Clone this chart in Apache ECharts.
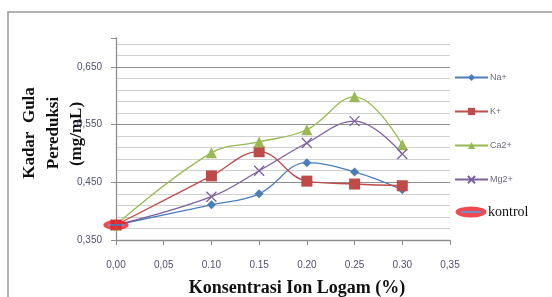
<!DOCTYPE html>
<html>
<head>
<meta charset="utf-8">
<script src="https://cdn.jsdelivr.net/npm/echarts@6/dist/echarts.min.js"></script>
<style>
  html, body { margin: 0; padding: 0; background: #fff; }
  #chart { width: 552px; height: 297px; }
</style>
</head>
<body>
<div id="chart"></div>
<script>
// concentrations (%)
const xValues = [0.00, 0.10, 0.15, 0.20, 0.25, 0.30];
const naValues = [0.376, 0.411, 0.430, 0.484, 0.468, 0.437];
const kValues = [0.376, 0.461, 0.503, 0.452, 0.447, 0.444];
const caValues = [0.376, 0.501, 0.520, 0.541, 0.598, 0.515];
const mgValues = [0.376, 0.425, 0.470, 0.518, 0.556, 0.499];
const kontrolValues = [[0.00, 0.376]];
const xTickLabels = { '0': '0,00', '0.05': '0,05', '0.1': '0.10', '0.15': '0.15', '0.2': '0.20', '0.25': '0.25', '0.3': '0.30', '0.35': '0,35' };
const yTickLabels = { '0.35': '0,350', '0.45': '0,450', '0.55': '0,550', '0.65': '0,650' };

const chart = echarts.init(document.getElementById('chart'));

const pairs = vals => vals.map((v, i) => [xValues[i], v]);

// red ellipse with blue line, used for kontrol marker + legend
const kontrolSvg = 'data:image/svg+xml;utf8,' + encodeURIComponent(
  '<svg xmlns="http://www.w3.org/2000/svg" width="32" height="12" viewBox="0 0 32 12">' +
  '<ellipse cx="16" cy="6" rx="15.5" ry="5.5" fill="#ee1c24"/>' +
  '<line x1="6" y1="6" x2="26" y2="6" stroke="#5b6fb2" stroke-width="2.2"/></svg>'
);

const minorColors = [];
for (let i = 0; i < 19; i++) minorColors.push(i % 5 === 0 ? '#8e8e8e' : '#cfcfcf');

const tickFont = { fontSize: 10, color: '#4f4f70', fontFamily: 'Liberation Sans' };

const lineSeries = (name, vals, color, symbol, size) => ({
  name: name,
  type: 'line',
  smooth: 0.4,
  data: pairs(vals),
  symbol: symbol,
  symbolSize: size,
  lineStyle: { color: color, width: 1.3 },
  itemStyle: { color: color, borderColor: color, borderWidth: symbol.startsWith('path') ? 1.3 : 0 },
  z: 3
});

const option = {
  animation: false,
  grid: { left: 116, top: 38, right: 102, bottom: 57 },
  xAxis: {
    type: 'value',
    min: 0,
    max: 0.35,
    interval: 0.05,
    axisLine: { lineStyle: { color: '#8e8e8e', width: 1.3 } },
    axisTick: { show: true, length: 5, lineStyle: { color: '#8e8e8e' } },
    axisLabel: Object.assign({ margin: 20, formatter: v => xTickLabels[String(+v.toFixed(2))] || '' }, tickFont),
    splitLine: { show: false }
  },
  yAxis: [
    {
      type: 'value',
      min: 0.35,
      max: 0.70,
      interval: 0.02,
      axisLine: { show: true, lineStyle: { color: '#8e8e8e', width: 1.3 } },
      axisTick: { show: false },
      axisLabel: { show: false },
      splitLine: { show: true, showMaxLine: false, lineStyle: { color: minorColors, width: 1.2 } }
    },
    {
      type: 'value',
      position: 'left',
      min: 0.35,
      max: 0.70,
      interval: 0.1,
      axisLine: { show: false },
      axisTick: { show: true, length: 5, lineStyle: { color: '#8e8e8e' } },
      axisLabel: Object.assign({ margin: 14, formatter: v => yTickLabels[String(+v.toFixed(2))] || '' }, tickFont),
      splitLine: { show: false }
    }
  ],
  legend: [
    {
      orient: 'vertical',
      left: 449,
      top: 68,
      itemWidth: 33,
      itemHeight: 9,
      itemGap: 25,
      data: ['Na+', 'K+', 'Ca2+', 'Mg2+'],
      textStyle: { fontSize: 9, color: '#6a6a80', fontFamily: 'Liberation Sans', padding: [0, 0, 0, -3] }
    },
    {
      orient: 'vertical',
      left: 450,
      top: 200,
      itemWidth: 32,
      itemHeight: 12,
      data: [{ name: 'kontrol', icon: 'image://' + kontrolSvg }],
      textStyle: { fontSize: 14, color: '#111', fontFamily: 'Liberation Serif', padding: [0, 0, 0, -4] }
    }
  ],
  graphic: [
    {
      type: 'rect',
      shape: { x: 8, y: 12, width: 700, height: 400 },
      style: { fill: 'none', stroke: '#9a9a9a', lineWidth: 1.5 },
      silent: true
    },
    {
      type: 'text',
      x: 30, y: 133, rotation: Math.PI / 2,
      style: { text: 'Kadar  Gula', font: 'bold 17px "Liberation Serif"', fill: '#111', align: 'center', verticalAlign: 'middle' }
    },
    {
      type: 'text',
      x: 54, y: 133, rotation: Math.PI / 2,
      style: { text: 'Pereduksi', font: 'bold 17px "Liberation Serif"', fill: '#111', align: 'center', verticalAlign: 'middle' }
    },
    {
      type: 'text',
      x: 77, y: 134, rotation: Math.PI / 2,
      style: { text: '(mg/mL)', font: 'bold 17px "Liberation Serif"', fill: '#111', align: 'center', verticalAlign: 'middle' }
    },
    {
      type: 'text',
      x: 297, y: 288,
      style: { text: 'Konsentrasi Ion Logam (%)', font: 'bold 18px "Liberation Serif"', fill: '#111', align: 'center', verticalAlign: 'middle' }
    }
  ],
  series: [
    lineSeries('Na+', naValues, '#4a7ebb', 'diamond', 9),
    lineSeries('K+', kValues, '#be4b48', 'rect', 11),
    lineSeries('Ca2+', caValues, '#98b954', 'triangle', 11),
    lineSeries('Mg2+', mgValues, '#7d60a0', 'path://M0,0L10,10M10,0L0,10', 10),
    {
      name: 'kontrol',
      type: 'scatter',
      data: kontrolValues,
      symbol: 'image://' + kontrolSvg,
      symbolSize: [26, 11],
      z: 5
    }
  ]
};

chart.setOption(option);
</script>
</body>
</html>
